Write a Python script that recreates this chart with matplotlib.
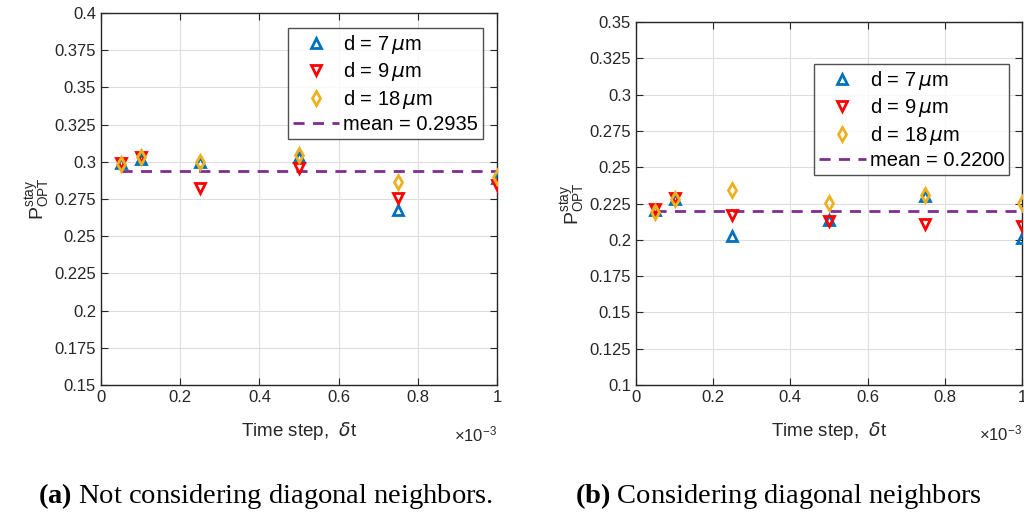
import matplotlib
matplotlib.use("Agg")
import matplotlib.pyplot as plt

plt.rcParams['font.family'] = ['Liberation Sans', 'DejaVu Sans']
plt.rcParams['mathtext.fontset'] = 'custom'
plt.rcParams['mathtext.rm'] = 'Liberation Sans'
plt.rcParams['mathtext.it'] = 'DejaVu Sans:italic'
plt.rcParams['mathtext.bf'] = 'Liberation Serif:bold'
plt.rcParams['mathtext.default'] = 'regular'

# time step in units of 1e-3
time_steps = [0.05, 0.1, 0.25, 0.5, 0.75, 1.0]

# (a) not considering diagonal neighbors
a_d7 = [0.299, 0.302, 0.2996, 0.3034, 0.2676, 0.289]
a_d9 = [0.2995, 0.303, 0.2822, 0.2956, 0.2759, 0.2844]
a_d18 = [0.2987, 0.303, 0.300, 0.3046, 0.2864, 0.2896]
a_mean = 0.2935

# (b) considering diagonal neighbors
b_d7 = [0.2205, 0.228, 0.2026, 0.2139, 0.230, 0.2014]
b_d9 = [0.221, 0.2285, 0.217, 0.213, 0.2107, 0.2093]
b_d18 = [0.219, 0.228, 0.2343, 0.2257, 0.2308, 0.2257]
b_mean = 0.2200

legend_labels = [r'd = 7$\,\mathit{\mu}$m', r'd = 9$\,\mathit{\mu}$m', r'd = 18$\,\mathit{\mu}$m']
captions = ['Not considering diagonal neighbors.', 'Considering diagonal neighbors']

c_blue = (0.0, 0.447, 0.741)
c_red = (1.0, 0.0, 0.0)
c_yel = (0.929, 0.694, 0.125)
c_mean = (0.494, 0.184, 0.556)
axcol = (0.15, 0.15, 0.15)

fig = plt.figure(figsize=(10.24, 5.17), dpi=100)
ax1 = fig.add_axes([0.0986, 0.2553, 0.3868, 0.7196])
ax2 = fig.add_axes([0.621, 0.2553, 0.3770, 0.7021])


def draw(ax, d7, d9, d18, mean, ylim, yticks, legend_anchor):
    ax.plot(time_steps, d7, linestyle='none', marker='^', ms=7.5, mfc='none',
            mec=c_blue, mew=2, label=legend_labels[0], zorder=3)
    ax.plot(time_steps, d9, linestyle='none', marker='v', ms=7.5, mfc='none',
            mec=c_red, mew=2, label=legend_labels[1], zorder=3)
    ax.plot(time_steps, d18, linestyle='none', marker='d', ms=7.5, mfc='none',
            mec=c_yel, mew=2, label=legend_labels[2], zorder=4)
    ax.plot([time_steps[0], time_steps[-1]], [mean, mean], '--', color=c_mean,
            lw=2, dashes=(4, 3), label='mean = %.4f' % mean, zorder=2)
    ax.set_xlim(0, 1)
    ax.set_ylim(*ylim)
    ax.set_xticks([0, 0.2, 0.4, 0.6, 0.8, 1.0])
    ax.set_xticklabels(['0', '0.2', '0.4', '0.6', '0.8', '1'])
    ax.set_yticks(yticks)
    ax.set_yticklabels(['%g' % v for v in yticks])
    ax.grid(True, color=(0.87, 0.87, 0.87), lw=0.8)
    ax.set_axisbelow(True)
    ax.tick_params(direction='in', top=True, right=True, labelsize=12,
                   colors=axcol, length=5)
    for s in ax.spines.values():
        s.set_color(axcol)
        s.set_linewidth(1)
    ax.set_xlabel(r'Time step,  $\mathit{\delta}$t', fontsize=13.5, color=axcol,
                  labelpad=11)
    ax.set_ylabel(r'P$_{OPT}^{stay}$', fontsize=14, color=axcol, labelpad=2)
    ax.text(1.0, -0.105, r'$\times$10$^{-3}$', transform=ax.transAxes,
            ha='right', va='top', fontsize=12, color=axcol)
    leg = ax.legend(loc='upper right', bbox_to_anchor=legend_anchor, fontsize=14.5,
                    frameon=True, fancybox=False, edgecolor=axcol,
                    handlelength=2.3, handletextpad=0.2, borderpad=0.25,
                    labelspacing=0.22, borderaxespad=0)
    leg.get_frame().set_linewidth(1)


draw(ax1, a_d7, a_d9, a_d18, a_mean, (0.15, 0.4),
     [0.15, 0.175, 0.2, 0.225, 0.25, 0.275, 0.3, 0.325, 0.35, 0.375, 0.4],
     (0.965, 0.96))
draw(ax2, b_d7, b_d9, b_d18, b_mean, (0.1, 0.35),
     [0.1, 0.125, 0.15, 0.175, 0.2, 0.225, 0.25, 0.275, 0.3, 0.325, 0.35],
     (0.967, 0.885))

serif = ['Liberation Serif', 'DejaVu Serif']
for xc, tag, cap in [(0.259, 'a', captions[0]), (0.76, 'b', captions[1])]:
    fig.text(xc, 0.012, r'$\mathbf{(%s)}$ %s' % (tag, cap),
             ha='center', va='bottom', fontsize=20.5, family=serif, color='black')

fig.savefig('out.png', dpi=100)
